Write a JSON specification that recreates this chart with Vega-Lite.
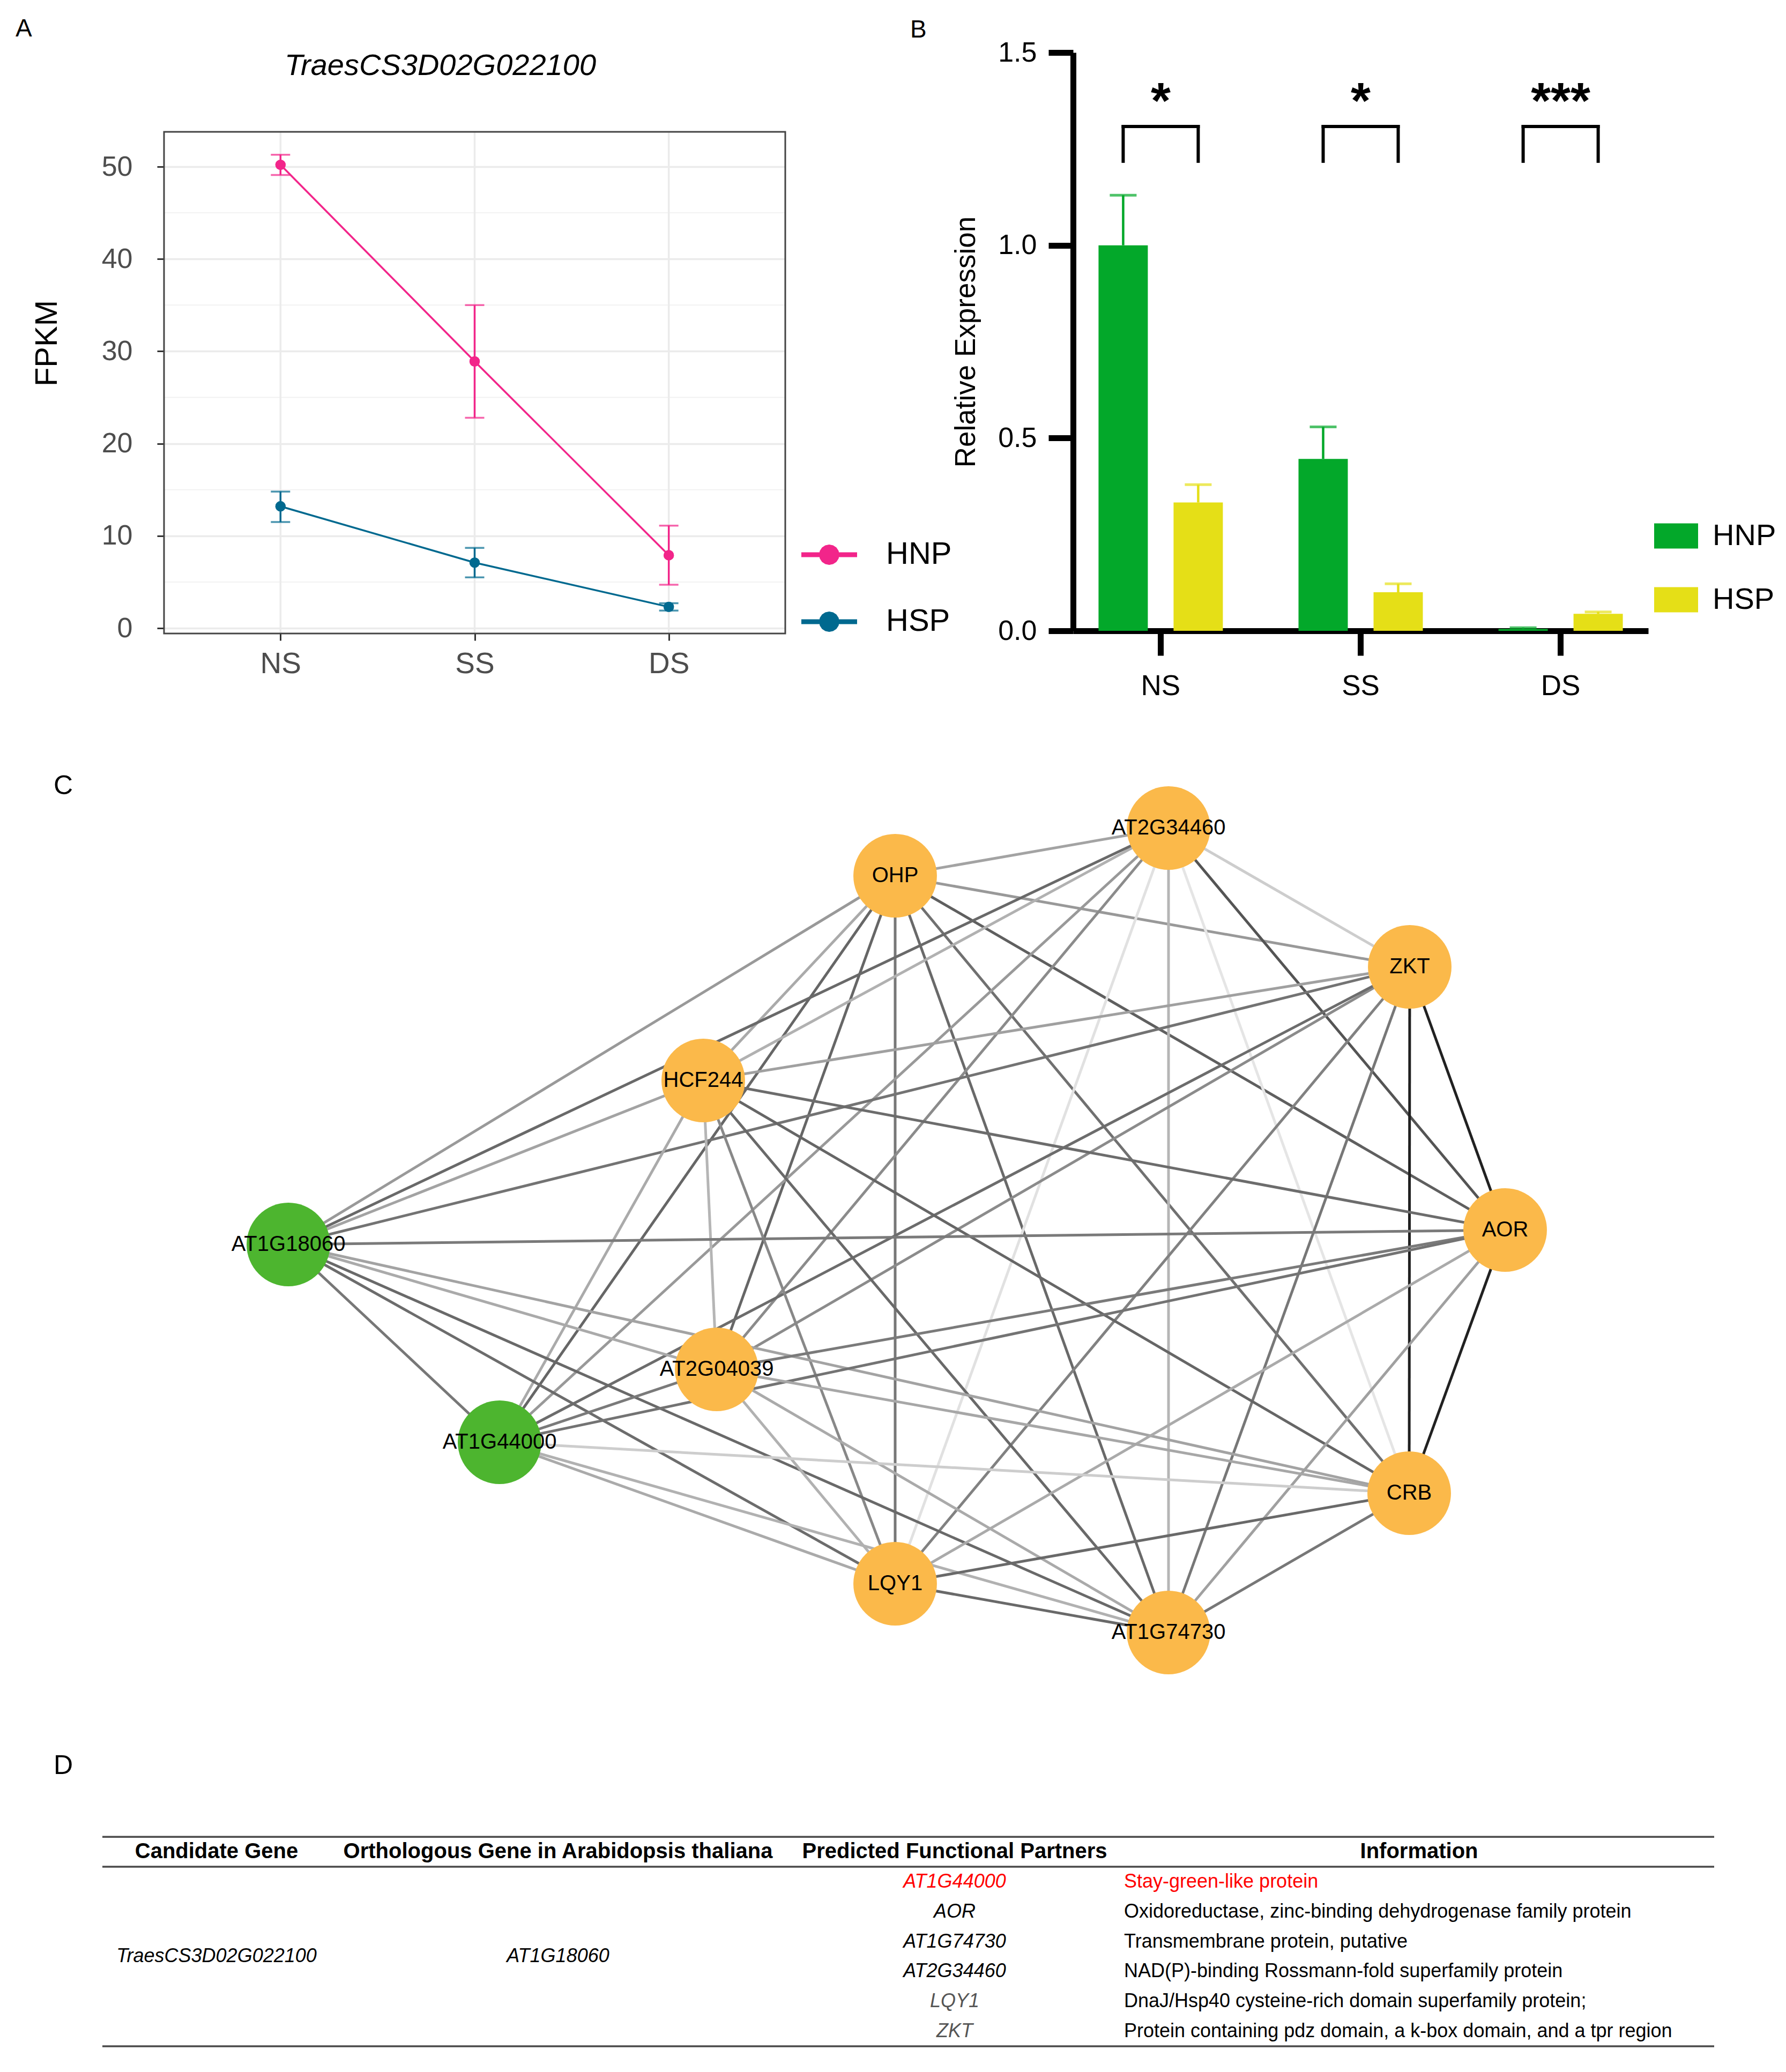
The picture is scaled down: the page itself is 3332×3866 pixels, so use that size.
{
  "$schema": "https://vega.github.io/schema/vega-lite/v6.json",
  "background": "white",
  "padding": {"left": 0, "top": 31, "right": 0, "bottom": 0},
  "spacing": 0,
  "config": {
    "font": "Liberation Sans",
    "view": {"stroke": null},
    "axis": {"labelFont": "Liberation Sans", "titleFont": "Liberation Sans"},
    "legend": {"labelFont": "Liberation Sans", "titleFont": "Liberation Sans"},
    "title": {"font": "Liberation Sans"},
    "text": {"font": "Liberation Sans"}
  },
  "resolve": {"scale": {"color": "independent", "stroke": "independent", "fill": "independent", "xOffset": "independent"}},
  "datasets": {
    "fpkm": [
      {"stage": "NS", "genotype": "HNP", "fpkm": 50.2, "lower": 49.1, "upper": 51.3},
      {"stage": "SS", "genotype": "HNP", "fpkm": 28.9, "lower": 22.8, "upper": 35.0},
      {"stage": "DS", "genotype": "HNP", "fpkm": 7.9, "lower": 4.7, "upper": 11.1},
      {"stage": "NS", "genotype": "HSP", "fpkm": 13.2, "lower": 11.5, "upper": 14.8},
      {"stage": "SS", "genotype": "HSP", "fpkm": 7.1, "lower": 5.5, "upper": 8.7},
      {"stage": "DS", "genotype": "HSP", "fpkm": 2.3, "lower": 1.9, "upper": 2.7}
    ],
    "stages": [{"stage": "NS"}, {"stage": "SS"}, {"stage": "DS"}],
    "panel": [{"panel": "A"}],
    "minorgrid": [{"level": 5}, {"level": 15}, {"level": 25}, {"level": 35}, {"level": 45}],
    "qpcr": [
      {"stage": "NS", "genotype": "HNP", "rel": 1.0, "upper": 1.13},
      {"stage": "NS", "genotype": "HSP", "rel": 0.333, "upper": 0.379},
      {"stage": "SS", "genotype": "HNP", "rel": 0.446, "upper": 0.529},
      {"stage": "SS", "genotype": "HSP", "rel": 0.10, "upper": 0.122},
      {"stage": "DS", "genotype": "HNP", "rel": 0.005, "upper": 0.008},
      {"stage": "DS", "genotype": "HSP", "rel": 0.044, "upper": 0.049}
    ],
    "sig": [
      {"stage": "NS", "mark": "*"},
      {"stage": "SS", "mark": "*"},
      {"stage": "DS", "mark": "***"}
    ],
    "nodes": [
      {"name": "OHP", "x": 1670, "y": 1634, "highlight": "no"},
      {"name": "AT2G34460", "x": 2180, "y": 1545, "highlight": "no"},
      {"name": "ZKT", "x": 2630, "y": 1804, "highlight": "no"},
      {"name": "HCF244", "x": 1312, "y": 2016, "highlight": "no"},
      {"name": "AT1G18060", "x": 538, "y": 2322, "highlight": "yes"},
      {"name": "AOR", "x": 2808, "y": 2295, "highlight": "no"},
      {"name": "AT2G04039", "x": 1337, "y": 2555, "highlight": "no"},
      {"name": "AT1G44000", "x": 932, "y": 2691, "highlight": "yes"},
      {"name": "CRB", "x": 2629, "y": 2786, "highlight": "no"},
      {"name": "LQY1", "x": 1670, "y": 2955, "highlight": "no"},
      {"name": "AT1G74730", "x": 2180, "y": 3046, "highlight": "no"}
    ],
    "edges": [
      {"source": "OHP", "target": "AT2G34460", "score": 0.60},
      {"source": "OHP", "target": "ZKT", "score": 0.63},
      {"source": "OHP", "target": "HCF244", "score": 0.58},
      {"source": "OHP", "target": "AT1G18060", "score": 0.63},
      {"source": "OHP", "target": "AOR", "score": 0.80},
      {"source": "OHP", "target": "AT2G04039", "score": 0.78},
      {"source": "OHP", "target": "AT1G44000", "score": 0.78},
      {"source": "OHP", "target": "CRB", "score": 0.75},
      {"source": "OHP", "target": "LQY1", "score": 0.73},
      {"source": "OHP", "target": "AT1G74730", "score": 0.77},
      {"source": "AT2G34460", "target": "ZKT", "score": 0.48},
      {"source": "AT2G34460", "target": "HCF244", "score": 0.56},
      {"source": "AT2G34460", "target": "AT1G18060", "score": 0.77},
      {"source": "AT2G34460", "target": "AOR", "score": 0.83},
      {"source": "AT2G34460", "target": "AT2G04039", "score": 0.67},
      {"source": "AT2G34460", "target": "AT1G44000", "score": 0.63},
      {"source": "AT2G34460", "target": "CRB", "score": 0.41},
      {"source": "AT2G34460", "target": "LQY1", "score": 0.42},
      {"source": "AT2G34460", "target": "AT1G74730", "score": 0.55},
      {"source": "ZKT", "target": "HCF244", "score": 0.61},
      {"source": "ZKT", "target": "AT1G18060", "score": 0.74},
      {"source": "ZKT", "target": "AOR", "score": 0.98},
      {"source": "ZKT", "target": "AT2G04039", "score": 0.67},
      {"source": "ZKT", "target": "AT1G44000", "score": 0.76},
      {"source": "ZKT", "target": "CRB", "score": 0.98},
      {"source": "ZKT", "target": "LQY1", "score": 0.70},
      {"source": "ZKT", "target": "AT1G74730", "score": 0.73},
      {"source": "HCF244", "target": "AT1G18060", "score": 0.60},
      {"source": "HCF244", "target": "AOR", "score": 0.76},
      {"source": "HCF244", "target": "AT2G04039", "score": 0.55},
      {"source": "HCF244", "target": "AT1G44000", "score": 0.58},
      {"source": "HCF244", "target": "CRB", "score": 0.78},
      {"source": "HCF244", "target": "LQY1", "score": 0.68},
      {"source": "HCF244", "target": "AT1G74730", "score": 0.77},
      {"source": "AT1G18060", "target": "AOR", "score": 0.72},
      {"source": "AT1G18060", "target": "AT2G04039", "score": 0.58},
      {"source": "AT1G18060", "target": "AT1G44000", "score": 0.73},
      {"source": "AT1G18060", "target": "CRB", "score": 0.60},
      {"source": "AT1G18060", "target": "LQY1", "score": 0.76},
      {"source": "AT1G18060", "target": "AT1G74730", "score": 0.77},
      {"source": "AOR", "target": "AT2G04039", "score": 0.72},
      {"source": "AOR", "target": "AT1G44000", "score": 0.74},
      {"source": "AOR", "target": "CRB", "score": 0.98},
      {"source": "AOR", "target": "LQY1", "score": 0.58},
      {"source": "AOR", "target": "AT1G74730", "score": 0.61},
      {"source": "AT2G04039", "target": "AT1G44000", "score": 0.72},
      {"source": "AT2G04039", "target": "CRB", "score": 0.59},
      {"source": "AT2G04039", "target": "LQY1", "score": 0.56},
      {"source": "AT2G04039", "target": "AT1G74730", "score": 0.58},
      {"source": "AT1G44000", "target": "CRB", "score": 0.48},
      {"source": "AT1G44000", "target": "LQY1", "score": 0.58},
      {"source": "AT1G44000", "target": "AT1G74730", "score": 0.56},
      {"source": "CRB", "target": "LQY1", "score": 0.77},
      {"source": "CRB", "target": "AT1G74730", "score": 0.73},
      {"source": "LQY1", "target": "AT1G74730", "score": 0.77}
    ],
    "table": [
      {"column": "candidate", "row": 0, "text": "Candidate Gene"},
      {"column": "candidate", "row": 3.5, "text": "TraesCS3D02G022100"},
      {"column": "ortholog", "row": 0, "text": "Orthologous Gene in Arabidopsis thaliana"},
      {"column": "ortholog", "row": 3.5, "text": "AT1G18060"},
      {"column": "partner", "row": 0, "text": "Predicted Functional Partners"},
      {"column": "partner", "row": 1, "text": "AT1G44000"},
      {"column": "partner", "row": 2, "text": "AOR"},
      {"column": "partner", "row": 3, "text": "AT1G74730"},
      {"column": "partner", "row": 4, "text": "AT2G34460"},
      {"column": "partner", "row": 5, "text": "LQY1"},
      {"column": "partner", "row": 6, "text": "ZKT"},
      {"column": "info", "row": 0, "text": "Information"},
      {"column": "info", "row": 1, "text": "Stay-green-like protein"},
      {"column": "info", "row": 2, "text": "Oxidoreductase, zinc-binding dehydrogenase family protein"},
      {"column": "info", "row": 3, "text": "Transmembrane protein, putative"},
      {"column": "info", "row": 4, "text": "NAD(P)-binding Rossmann-fold superfamily protein"},
      {"column": "info", "row": 5, "text": "DnaJ/Hsp40 cysteine-rich domain superfamily protein;"},
      {"column": "info", "row": 6, "text": "Protein containing pdz domain, a k-box domain, and a tpr region"}
    ],
    "tablelines": [{"at": -0.5}, {"at": 0.5}, {"at": 6.5}]
  },
  "vconcat": [
    {
      "bounds": "flush",
      "spacing": 0,
      "resolve": {"scale": {"color": "independent", "stroke": "independent", "fill": "independent", "xOffset": "independent"}},
      "hconcat": [
        {
          "width": 306, "height": 1084, "data": {"values": []}, "mark": "text",
          "title": {"text": "A", "anchor": "start", "frame": "group", "dx": 29, "dy": 16, "offset": 0, "baseline": "alphabetic", "fontSize": 46, "fontWeight": "normal", "color": "black"}
        },
        {
          "width": 1159,
          "height": 1084,
          "title": {"text": "TraesCS3D02G022100", "anchor": "middle", "frame": "group", "dx": -64, "dy": 98, "offset": 0, "baseline": "alphabetic", "fontSize": 56, "fontStyle": "italic", "fontWeight": "normal", "color": "black"},
          "layer": [
            {
              "data": {"name": "fpkm"},
              "mark": {"type": "circle", "size": 370, "opacity": 1},
              "encoding": {
                "x": {
                  "field": "stage", "type": "nominal", "sort": ["NS", "SS", "DS"], "title": null,
                  "scale": {"type": "point", "padding": 0.6},
                  "axis": {
                    "grid": false, "domain": false,
                    "tickColor": "#333333", "tickWidth": 3, "tickSize": 13, "labelAngle": 0,
                    "labelFontSize": 55, "labelColor": "#4D4D4D", "labelPadding": 17
                  }
                },
                "y": {
                  "field": "fpkm", "type": "quantitative", "title": "FPKM",
                  "scale": {"domain": [-0.58, 62.37], "nice": false, "zero": false},
                  "axis": {
                    "values": [0, 10, 20, 30, 40, 50], "grid": true, "gridColor": "#EBEBEB", "gridWidth": 3.5,
                    "domain": false, "tickColor": "#333333", "tickWidth": 3, "tickSize": 13,
                    "labelFontSize": 52, "labelColor": "#4D4D4D", "labelPadding": 46,
                    "titleFontSize": 58, "titleFontWeight": "normal", "titleColor": "black", "titlePadding": 72
                  }
                },
                "color": {
                  "field": "genotype", "type": "nominal",
                  "scale": {"domain": ["HNP", "HSP"], "range": ["#F2258A", "#00698F"]},
                  "legend": {
                    "orient": "none", "legendX": 1189, "legendY": 885, "title": null, "padding": 0,
                    "symbolType": "M-1,-0.0865L1,-0.0865L1,0.0865L-1,0.0865Z M0.365,0L0.3372,0.1397L0.2581,0.2581L0.1397,0.3372L0,0.365L-0.1397,0.3372L-0.2581,0.2581L-0.3372,0.1397L-0.365,0L-0.3372,-0.1397L-0.2581,-0.2581L-0.1397,-0.3372L0,-0.365L0.1397,-0.3372L0.2581,-0.2581L0.3372,-0.1397Z",
                    "symbolSize": 10816, "symbolStrokeWidth": 0, "symbolOpacity": 1,
                    "labelFontSize": 58, "labelColor": "black", "labelOffset": 54, "rowPadding": 44
                  }
                }
              }
            },
            {
              "data": {"name": "minorgrid"},
              "mark": {"type": "rule", "color": "#F2F2F2", "strokeWidth": 2},
              "encoding": {
                "y": {"field": "level", "type": "quantitative", "title": "FPKM"}
              }
            },
            {
              "data": {"name": "stages"},
              "mark": {"type": "rule", "color": "#EBEBEB", "strokeWidth": 3.5},
              "encoding": {
                "x": {"field": "stage", "type": "nominal", "sort": ["NS", "SS", "DS"], "title": null},
                "y": {"datum": -0.58, "type": "quantitative"},
                "y2": {"datum": 53.77}
              }
            },
            {
              "data": {"name": "panel"},
              "mark": {"type": "rect", "fill": "transparent", "stroke": "#444444", "strokeWidth": 3},
              "encoding": {
                "y": {"datum": -0.58, "type": "quantitative"},
                "y2": {"datum": 53.77}
              }
            },
            {
              "data": {"name": "fpkm"},
              "mark": {"type": "rule", "strokeWidth": 3.5},
              "encoding": {
                "x": {"field": "stage", "type": "nominal", "sort": ["NS", "SS", "DS"], "title": null},
                "y": {"field": "lower", "type": "quantitative", "title": "FPKM"},
                "y2": {"field": "upper"},
                "stroke": {"field": "genotype", "type": "nominal", "scale": {"domain": ["HNP", "HSP"], "range": ["#F2258A", "#00698F"]}, "legend": null}
              }
            },
            {
              "data": {"name": "fpkm"},
              "mark": {"type": "tick", "size": 36, "thickness": 3.5},
              "encoding": {
                "x": {"field": "stage", "type": "nominal", "sort": ["NS", "SS", "DS"], "title": null},
                "y": {"field": "upper", "type": "quantitative", "title": "FPKM"},
                "fill": {"field": "genotype", "type": "nominal", "scale": {"domain": ["HNP", "HSP"], "range": ["#F2258A", "#00698F"]}, "legend": null}
              }
            },
            {
              "data": {"name": "fpkm"},
              "mark": {"type": "tick", "size": 36, "thickness": 3.5},
              "encoding": {
                "x": {"field": "stage", "type": "nominal", "sort": ["NS", "SS", "DS"], "title": null},
                "y": {"field": "lower", "type": "quantitative", "title": "FPKM"},
                "fill": {"field": "genotype", "type": "nominal", "legend": null}
              }
            },
            {
              "data": {"name": "fpkm"},
              "mark": {"type": "line", "strokeWidth": 3.5},
              "encoding": {
                "x": {"field": "stage", "type": "nominal", "sort": ["NS", "SS", "DS"], "title": null},
                "y": {"field": "fpkm", "type": "quantitative", "title": "FPKM"},
                "stroke": {"field": "genotype", "type": "nominal", "legend": null}
              }
            },
            {
              "data": {"name": "fpkm"},
              "mark": {"type": "circle", "size": 370, "opacity": 1},
              "encoding": {
                "x": {"field": "stage", "type": "nominal", "sort": ["NS", "SS", "DS"], "title": null},
                "y": {"field": "fpkm", "type": "quantitative", "title": "FPKM"},
                "color": {"field": "genotype", "type": "nominal"}
              }
            }
          ]
        },
        {
          "width": 537, "height": 1084, "data": {"values": []}, "mark": "text",
          "title": {"text": "B", "anchor": "start", "frame": "group", "dx": 233, "dy": 18, "offset": 0, "baseline": "alphabetic", "fontSize": 46, "fontWeight": "normal", "color": "black"}
        },
        {
          "width": 1073,
          "height": 1079,
          "data": {"name": "qpcr"},
          "layer": [
            {
              "mark": {"type": "bar"},
              "encoding": {
                "x": {
                  "field": "stage", "type": "nominal", "sort": ["NS", "SS", "DS"], "title": null,
                  "scale": {"type": "band", "paddingInner": 0.2, "paddingOuter": 0.038},
                  "axis": {
                    "domainWidth": 11, "domainColor": "black", "tickWidth": 11, "tickSize": 46, "tickColor": "black",
                    "labelFontSize": 53, "labelColor": "black", "labelPadding": 31, "labelAngle": 0, "grid": false
                  }
                },
                "xOffset": {"field": "genotype", "type": "nominal", "sort": ["HNP", "HSP"], "scale": {"paddingInner": 0.343, "paddingOuter": 0.2375}},
                "y": {
                  "field": "rel", "type": "quantitative", "title": "Relative Expression",
                  "scale": {"domain": [0, 1.5], "nice": false, "zero": false},
                  "axis": {
                    "values": [0, 0.5, 1, 1.5], "format": ".1f", "grid": false,
                    "domainWidth": 11, "domainColor": "black", "tickWidth": 11, "tickSize": 46, "tickColor": "black",
                    "labelFontSize": 52, "labelColor": "black", "labelPadding": 22,
                    "titleFontSize": 53, "titleFontWeight": "normal", "titleColor": "black", "titlePadding": 32
                  }
                },
                "color": {
                  "field": "genotype", "type": "nominal",
                  "scale": {"domain": ["HNP", "HSP"], "range": ["#03A82A", "#E5DF17"]},
                  "legend": {
                    "orient": "none", "legendX": 1084, "legendY": 861, "title": null, "padding": 0,
                    "symbolType": "M-1,-0.573H1V0.573H-1Z", "symbolSize": 6724, "symbolStrokeWidth": 0,
                    "labelFontSize": 56, "labelColor": "black", "labelOffset": 27, "rowPadding": 50
                  }
                }
              }
            },
            {
              "mark": {"type": "rule", "strokeWidth": 4.5},
              "encoding": {
                "x": {"field": "stage", "type": "nominal", "sort": ["NS", "SS", "DS"], "title": null},
                "xOffset": {"field": "genotype", "type": "nominal", "sort": ["HNP", "HSP"]},
                "y": {"field": "rel", "type": "quantitative", "title": "Relative Expression"},
                "y2": {"field": "upper"},
                "stroke": {"field": "genotype", "type": "nominal", "scale": {"domain": ["HNP", "HSP"], "range": ["#03A82A", "#E5DF17"]}, "legend": null}
              }
            },
            {
              "mark": {"type": "tick", "size": 50, "thickness": 5},
              "encoding": {
                "x": {"field": "stage", "type": "nominal", "sort": ["NS", "SS", "DS"], "title": null},
                "xOffset": {"field": "genotype", "type": "nominal", "sort": ["HNP", "HSP"]},
                "y": {"field": "upper", "type": "quantitative", "title": "Relative Expression"},
                "fill": {"field": "genotype", "type": "nominal", "scale": {"domain": ["HNP", "HSP"], "range": ["#03A82A", "#E5DF17"]}, "legend": null}
              }
            },
            {
              "mark": {"type": "rule", "strokeWidth": 6, "color": "black", "strokeCap": "square"},
              "encoding": {
                "x": {"field": "stage", "type": "nominal", "sort": ["NS", "SS", "DS"], "title": null},
                "xOffset": {"field": "genotype", "type": "nominal", "sort": ["HNP", "HSP"]},
                "y": {"datum": 1.218, "type": "quantitative"},
                "y2": {"datum": 1.308}
              }
            },
            {
              "mark": {"type": "line", "strokeWidth": 6, "color": "black", "strokeCap": "square"},
              "encoding": {
                "x": {"field": "stage", "type": "nominal", "sort": ["NS", "SS", "DS"], "title": null},
                "xOffset": {"field": "genotype", "type": "nominal", "sort": ["HNP", "HSP"]},
                "y": {"datum": 1.308, "type": "quantitative"},
                "detail": {"field": "stage", "type": "nominal"}
              }
            },
            {
              "data": {"name": "sig"},
              "mark": {"type": "text", "fontSize": 95, "fontWeight": "bold", "baseline": "alphabetic", "align": "center", "color": "black"},
              "encoding": {
                "x": {"field": "stage", "type": "nominal", "sort": ["NS", "SS", "DS"], "title": null},
                "y": {"datum": 1.33, "type": "quantitative"},
                "text": {"field": "mark"}
              }
            }
          ]
        }
      ]
    },
    {
      "width": 3332,
      "height": 1943,
      "title": {"text": "C", "anchor": "start", "frame": "group", "dx": 100, "dy": 225, "offset": 0, "baseline": "alphabetic", "fontSize": 50, "fontWeight": "normal", "color": "black"},
      "resolve": {"scale": {"color": "independent"}},
      "layer": [
        {
          "data": {"name": "edges"},
          "transform": [
            {"lookup": "source", "from": {"data": {"name": "nodes"}, "key": "name", "fields": ["x", "y"]}, "as": ["sx", "sy"]},
            {"lookup": "target", "from": {"data": {"name": "nodes"}, "key": "name", "fields": ["x", "y"]}, "as": ["tx", "ty"]}
          ],
          "mark": {"type": "rule", "strokeWidth": 5},
          "encoding": {
            "x": {"field": "sx", "type": "quantitative", "scale": {"domain": [0, 3332], "nice": false, "zero": false}, "axis": null},
            "y": {"field": "sy", "type": "quantitative", "scale": {"domain": [1307, 3250], "reverse": true, "nice": false, "zero": false}, "axis": null},
            "x2": {"field": "tx"},
            "y2": {"field": "ty"},
            "color": {"field": "score", "type": "quantitative", "scale": {"domain": [0.4, 1], "range": ["#e8e8e8", "#1a1a1a"], "interpolate": "rgb"}, "legend": null}
          }
        },
        {
          "data": {"name": "nodes"},
          "mark": {"type": "circle", "size": 24300, "opacity": 1},
          "encoding": {
            "x": {"field": "x", "type": "quantitative", "axis": null},
            "y": {"field": "y", "type": "quantitative", "axis": null},
            "color": {"field": "highlight", "type": "nominal", "scale": {"domain": ["yes", "no"], "range": ["#4DB52F", "#FBB94A"]}, "legend": null}
          }
        },
        {
          "data": {"name": "nodes"},
          "mark": {"type": "text", "fontSize": 40, "baseline": "middle", "align": "center", "color": "black"},
          "encoding": {
            "x": {"field": "x", "type": "quantitative", "axis": null},
            "y": {"field": "y", "type": "quantitative", "axis": null},
            "text": {"field": "name"}
          }
        }
      ]
    },
    {
      "bounds": "flush",
      "spacing": 0,
      "hconcat": [
        {
          "width": 191, "height": 616, "data": {"values": []}, "mark": "text",
          "title": {"text": "D", "anchor": "start", "frame": "group", "dx": 100, "dy": 110, "offset": 0, "baseline": "alphabetic", "fontSize": 50, "fontWeight": "normal", "color": "black"}
        },
        {
          "width": 426, "height": 616,
          "layer": [
            {"data": {"name": "tablelines"}, "mark": {"type": "rule", "color": "#4A4A4A", "strokeWidth": 3.5},
             "encoding": {"y": {"field": "at", "type": "quantitative", "scale": {"domain": [-3.677, 7.362], "reverse": true, "nice": false, "zero": false}, "axis": null}}},
            {"data": {"name": "table"}, "transform": [{"filter": "datum.column == 'candidate' && datum.row == 0"}],
             "mark": {"type": "text", "fontSize": 40, "fontWeight": "bold", "baseline": "middle", "align": "center", "color": "black"},
             "encoding": {"x": {"field": "column", "type": "nominal", "scale": {"type": "band", "paddingInner": 0, "paddingOuter": 0}, "axis": null}, "y": {"field": "row", "type": "quantitative", "axis": null}, "text": {"field": "text"}}},
            {"data": {"name": "table"}, "transform": [{"filter": "datum.column == 'candidate' && datum.row > 0"}],
             "mark": {"type": "text", "fontSize": 36, "fontStyle": "italic", "baseline": "middle", "align": "center", "color": "black"},
             "encoding": {"x": {"field": "column", "type": "nominal", "axis": null}, "y": {"field": "row", "type": "quantitative", "axis": null}, "text": {"field": "text"}}}
          ]
        },
        {
          "width": 848, "height": 616,
          "layer": [
            {"data": {"name": "tablelines"}, "mark": {"type": "rule", "color": "#4A4A4A", "strokeWidth": 3.5},
             "encoding": {"y": {"field": "at", "type": "quantitative", "scale": {"domain": [-3.677, 7.362], "reverse": true, "nice": false, "zero": false}, "axis": null}}},
            {"data": {"name": "table"}, "transform": [{"filter": "datum.column == 'ortholog' && datum.row == 0"}],
             "mark": {"type": "text", "fontSize": 40, "fontWeight": "bold", "baseline": "middle", "align": "center", "color": "black"},
             "encoding": {"x": {"field": "column", "type": "nominal", "scale": {"type": "band", "paddingInner": 0, "paddingOuter": 0}, "axis": null}, "y": {"field": "row", "type": "quantitative", "axis": null}, "text": {"field": "text"}}},
            {"data": {"name": "table"}, "transform": [{"filter": "datum.column == 'ortholog' && datum.row > 0"}],
             "mark": {"type": "text", "fontSize": 36, "fontStyle": "italic", "baseline": "middle", "align": "center", "color": "black"},
             "encoding": {"x": {"field": "column", "type": "nominal", "axis": null}, "y": {"field": "row", "type": "quantitative", "axis": null}, "text": {"field": "text"}}}
          ]
        },
        {
          "width": 632, "height": 616,
          "layer": [
            {"data": {"name": "tablelines"}, "mark": {"type": "rule", "color": "#4A4A4A", "strokeWidth": 3.5},
             "encoding": {"y": {"field": "at", "type": "quantitative", "scale": {"domain": [-3.677, 7.362], "reverse": true, "nice": false, "zero": false}, "axis": null}}},
            {"data": {"name": "table"}, "transform": [{"filter": "datum.column == 'partner' && datum.row == 0"}],
             "mark": {"type": "text", "fontSize": 40, "fontWeight": "bold", "baseline": "middle", "align": "center", "color": "black"},
             "encoding": {"x": {"field": "column", "type": "nominal", "scale": {"type": "band", "paddingInner": 0, "paddingOuter": 0}, "axis": null}, "y": {"field": "row", "type": "quantitative", "axis": null}, "text": {"field": "text"}}},
            {"data": {"name": "table"}, "transform": [{"filter": "datum.column == 'partner' && datum.row > 0"}],
             "mark": {"type": "text", "fontSize": 36, "fontStyle": "italic", "baseline": "middle", "align": "center"},
             "encoding": {
               "x": {"field": "column", "type": "nominal", "axis": null},
               "y": {"field": "row", "type": "quantitative", "axis": null},
               "text": {"field": "text"},
               "color": {"condition": [{"test": "datum.row == 1", "value": "#FF0000"}, {"test": "datum.row >= 5", "value": "#555555"}], "value": "black"}
             }}
          ]
        },
        {
          "width": 1101, "height": 616,
          "layer": [
            {"data": {"name": "tablelines"}, "mark": {"type": "rule", "color": "#4A4A4A", "strokeWidth": 3.5},
             "encoding": {"y": {"field": "at", "type": "quantitative", "scale": {"domain": [-3.677, 7.362], "reverse": true, "nice": false, "zero": false}, "axis": null}}},
            {"data": {"name": "table"}, "transform": [{"filter": "datum.column == 'info' && datum.row == 0"}],
             "mark": {"type": "text", "fontSize": 40, "fontWeight": "bold", "baseline": "middle", "align": "center", "color": "black"},
             "encoding": {"x": {"field": "column", "type": "nominal", "scale": {"type": "band", "paddingInner": 0, "paddingOuter": 0}, "axis": null}, "y": {"field": "row", "type": "quantitative", "axis": null}, "text": {"field": "text"}}},
            {"data": {"name": "table"}, "transform": [{"filter": "datum.column == 'info' && datum.row > 0"}],
             "mark": {"type": "text", "fontSize": 36, "baseline": "middle", "align": "left"},
             "encoding": {
               "x": {"field": "column", "type": "nominal", "bandPosition": 0, "axis": null},
               "y": {"field": "row", "type": "quantitative", "axis": null},
               "text": {"field": "text"},
               "color": {"condition": {"test": "datum.row == 1", "value": "#FF0000"}, "value": "black"}
             }}
          ]
        }
      ]
    }
  ]
}
